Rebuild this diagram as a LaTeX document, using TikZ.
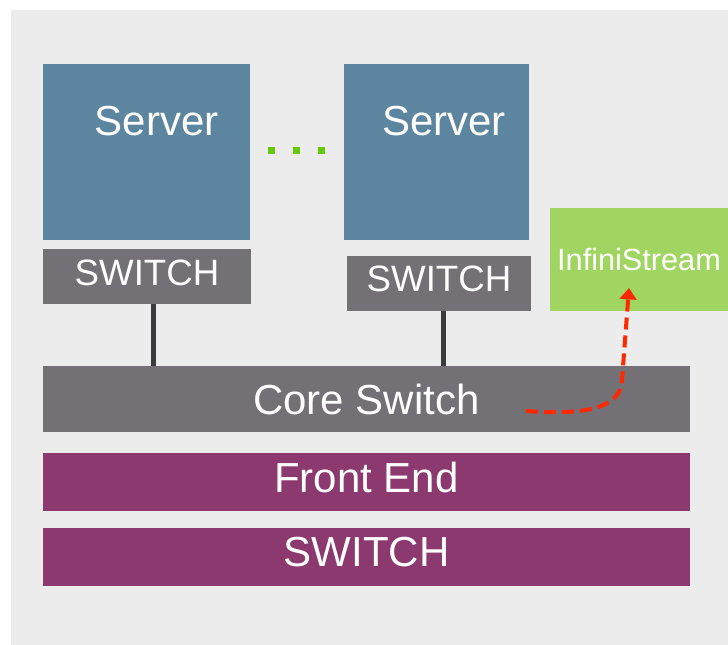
\documentclass[tikz,border=0pt]{standalone}
\usepackage{fontspec}
\setmainfont{Liberation Sans}
\usetikzlibrary{arrows.meta}

\definecolor{srvblue}{RGB}{92,134,160}
\definecolor{swgray}{RGB}{115,113,118}
\definecolor{fepurple}{RGB}{139,57,111}
\definecolor{isgreen}{RGB}{161,213,98}
\definecolor{dotgreen}{RGB}{102,200,10}
\definecolor{bggray}{RGB}{236,236,236}
\definecolor{linkgray}{RGB}{58,58,60}
\definecolor{flowred}{RGB}{255,40,0}

\tikzset{
  box/.style={rectangle, inner sep=0pt, draw=none, text=white},
  server/.style={box, fill=srvblue},
  swbox/.style={box, fill=swgray, font=\fontsize{27.5}{30}\selectfont,
    text height=19.7pt, text depth=#1},
  swbox/.default=0pt,
  band/.style={box, font=\fontsize{31.5}{34}\selectfont},
  raised/.style={text height=22.5pt, text depth=#1},
  lbl/.style={inner sep=0pt, text=white, font=\fontsize{31.5}{34}\selectfont},
  link/.style={draw=linkgray, line width=3.75pt},
  flow/.style={draw=flowred, line width=3pt, dash pattern=on 9pt off 4.5pt,
    -{Triangle[width=12.5pt,length=8.5pt]}}
}

\begin{document}
\begin{tikzpicture}[x=0.75pt,y=0.75pt,yscale=-1,xscale=1]
\useasboundingbox (0,0) rectangle (728,645);

%Background
\fill[bggray] (11,10) rectangle (728,645);

%Servers
\node[server, minimum width=155.25pt, minimum height=132pt] (srvA) at (146.5,152) {};
\node[server, minimum width=138.75pt, minimum height=132pt] (srvB) at (436.5,152) {};
% Text Node
\node[lbl] (srvAtxt) at (156.5,121) {Server};
% Text Node
\node[lbl] (srvBtxt) at (444,121) {Server};

%Dots between the servers
\foreach \dx in {271.5,296.5,321.5}
  \fill[dotgreen] (\dx-3.5,147) rectangle (\dx+3.5,154);

%Rack switches
\node[swbox=6pt, minimum width=156pt, minimum height=41.25pt] (swA) at (147,276.5) {SWITCH};
\node[swbox=8pt, minimum width=138pt, minimum height=41.25pt] (swB) at (439,283.5) {SWITCH};

%InfiniStream
\node[box, fill=isgreen, minimum width=133.5pt, minimum height=77.25pt,
  font=\fontsize{23}{26}\selectfont] (inf) at (639,259.5) {InfiniStream};

%Core switch and front end
\node[band, fill=swgray, minimum width=485.25pt, minimum height=49.5pt] (core) at (366.5,399) {Core Switch};
\node[band, raised=6.5pt, fill=fepurple, minimum width=485.25pt, minimum height=43.5pt] (fe) at (366.5,482) {Front End};
\node[band, raised=9pt, fill=fepurple, minimum width=485.25pt, minimum height=43.5pt] (feSw) at (366.5,557) {SWITCH};

%Uplinks
\draw[link] ([xshift=5pt]swA.south) -- ([xshift=5pt]swA.south |- core.north);
\draw[link] ([xshift=3pt]swB.south) -- ([xshift=3pt]swB.south |- core.north);

%Mirrored traffic
\coordinate (tap) at (526,411);
\coordinate (hit) at (629,288);
\draw[flow] (tap) .. controls (580,415) and (621,410) .. (622,380) -- (hit);

\end{tikzpicture}
\end{document}
